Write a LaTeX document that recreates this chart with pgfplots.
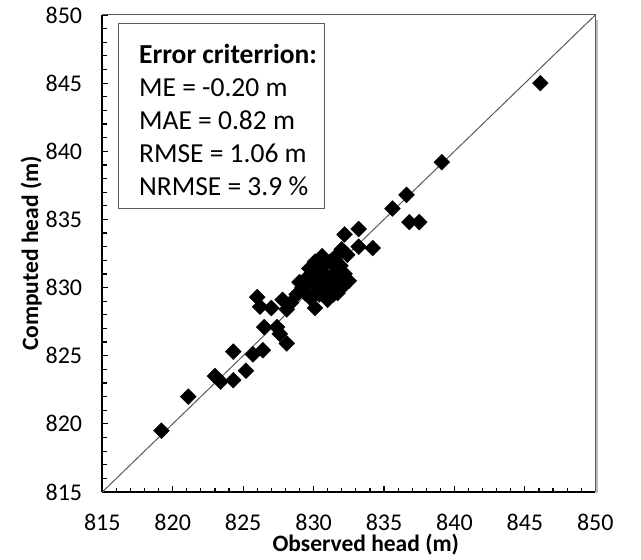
\documentclass[border=0pt]{standalone}
\usepackage{fontspec}
\setmainfont{Carlito}
\usepackage{pgfplots}
\pgfplotsset{compat=1.18}
\definecolor{frame}{RGB}{90,90,90}
\definecolor{shadow}{RGB}{190,190,190}
\begin{document}
\begin{tikzpicture}
\begin{axis}[
  at={(0,0)}, anchor=south west,
  scale only axis, width=493bp, height=477bp,
  xmin=815, xmax=850, ymin=815, ymax=850,
  xtick={815,820,...,850}, ytick={815,820,...,850},
  minor x tick num=4, minor y tick num=4,
  tick align=inside,
  major tick length=6bp, minor tick length=4.5bp,
  tick style={black, line width=1.2bp},
  axis x line*=bottom, axis y line*=left,
  axis line style={black, line width=1.8bp, -},
  /pgf/number format/assume math mode=true,
  /pgf/number format/1000 sep={},
  tick label style={font=\fontsize{24bp}{28bp}\selectfont, inner sep=0pt},
  xticklabel style={anchor=north, yshift=-22bp},
  yticklabel style={anchor=east, xshift=-20bp},
  xlabel={Observed head (m)}, ylabel={Computed head (m)},
  label style={font=\bfseries\fontsize{23.5bp}{27bp}\selectfont, inner sep=0pt},
  xlabel style={at={([xshift=17bp,yshift=-53bp]axis description cs:0.5,0)}, anchor=center},
  ylabel style={at={([xshift=-71bp]axis description cs:0,0.5)}, anchor=center},
  clip=false,
]
% 1:1 line
\addplot[no marks, color=frame, line width=1bp] coordinates {(815,815) (850,850)};
% observations
\addplot[only marks, mark=square*, mark size=5.6bp, mark options={rotate=45, fill=black, draw=black}] coordinates {
(819.2,819.5) (821.1,822.0) (823.0,823.5) (823.4,823.1) (824.3,823.2)
(825.2,823.9) (824.3,825.3) (825.7,825.1) (826.4,825.4) (826.0,829.3)
(826.2,828.6) (826.5,827.1) (827.4,827.1) (828.1,825.9) (827.6,826.6)
(827.0,828.5) (827.8,829.1) (828.1,828.4) (828.4,828.9) (828.8,829.5)
(829.0,830.4) (830.1,831.9) (830.1,828.5)
(829.4,829.6) (829.6,830.8) (829.8,829.2) (830.0,830.2) (830.2,831.2)
(830.4,829.5) (830.5,830.6) (830.7,831.6) (830.8,829.9) (831.0,830.8)
(831.0,829.1) (831.2,831.9) (831.3,830.2) (831.4,829.5) (831.5,831.1)
(831.6,832.3) (831.8,830.6) (831.9,831.6) (832.1,830.1) (832.2,831.0)
(832.4,832.4) (832.0,832.8) (830.6,832.3) (829.7,831.4) (831.2,829.8)
(832.5,830.5) (829.2,830.0) (830.3,830.0) (831.7,829.6)
(832.2,833.9) (833.2,834.3) (833.2,833.0) (834.2,832.9)
(835.6,835.8) (836.6,836.8) (836.8,834.8) (837.5,834.8)
(839.1,839.2) (846.1,845.0)
};
% plot-area frame (top and right) with shadow
\draw[shadow, line width=2bp] ([xshift=2bp]rel axis cs:1,0.99) -- ([xshift=2bp,yshift=-1bp]rel axis cs:1,0);
\draw[frame, line width=1bp] (rel axis cs:0,1) -- (rel axis cs:1,1) -- (rel axis cs:1,0);
% error criteria box
\node[draw=frame, line width=1bp, anchor=north west, inner sep=0pt,
      minimum width=206bp, minimum height=185bp] at (axis cs:816.11,849.4) {};
\node[anchor=north west, align=left, inner sep=0pt,
      font=\fontsize{27.5bp}{33bp}\selectfont] at (axis cs:817.6,847.9)
      {\textbf{Error criterrion:}\\ME = -0.20 m\\MAE = 0.82 m\\RMSE = 1.06 m\\NRMSE = 3.9 \%};
\end{axis}
\pgfresetboundingbox
\path (-102.3bp,-68bp) rectangle (538.7bp,492bp);
\end{tikzpicture}
\end{document}
